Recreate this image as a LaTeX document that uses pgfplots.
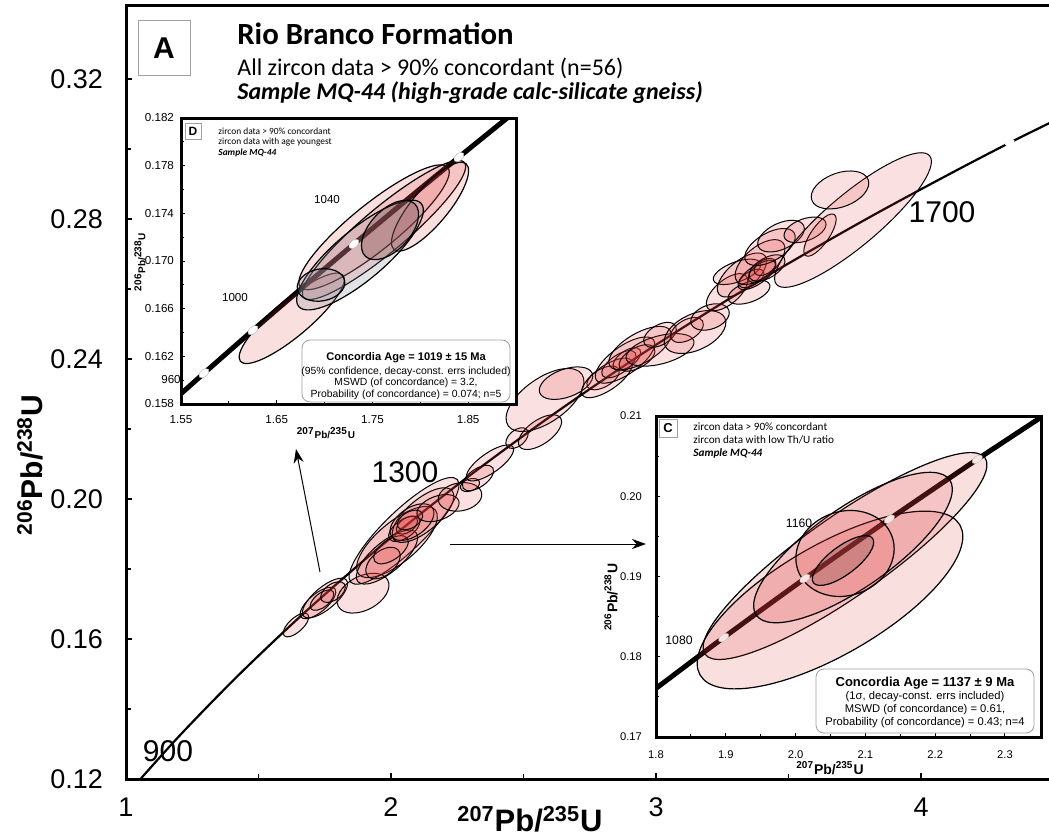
\documentclass[border=0pt]{standalone}
\usepackage{fontspec}
\setmainfont{Liberation Sans}
\newfontfamily\calib{Carlito}
\usepackage{pgfplots}
\pgfplotsset{compat=1.18}
\usetikzlibrary{arrows.meta}

\definecolor{ellred}{RGB}{225,60,60}
\definecolor{ellgray}{RGB}{140,145,160}
\definecolor{elldark}{RGB}{120,60,60}
\definecolor{boxgray}{RGB}{160,160,160}
\definecolor{markpink}{RGB}{250,228,228}

% a plot mark that draws nothing; the ellipse itself is drawn by the scatter code
\pgfdeclareplotmark{nothing}{}

\pgfplotsset{
  /pgf/number format/assume math mode=true,
  % rotated error ellipses: centre from x,y; semi-axes rx, ry (px); tilt ang (deg)
  % arguments: fill colour, fill opacity, outline width, outline colour
  error ellipses/.style n args={4}{
    scatter, only marks, mark=nothing,
    scatter/use mapped color={draw=none, fill=none},
    visualization depends on={value \thisrow{rx}\as\erx},
    visualization depends on={value \thisrow{ry}\as\ery},
    visualization depends on={value \thisrow{ang}\as\eang},
    scatter/@pre marker code/.code={%
      \pgfmathsetmacro\eax{0.5*\erx*cos(\eang)}%
      \pgfmathsetmacro\eay{0.5*\erx*sin(\eang)}%
      \pgfmathsetmacro\ebx{-0.5*\ery*sin(\eang)}%
      \pgfmathsetmacro\eby{0.5*\ery*cos(\eang)}%
      \begin{pgfscope}%
        \pgfsetfillcolor{#1}\pgfsetfillopacity{#2}%
        \pgfsetstrokecolor{#4}\pgfsetstrokeopacity{1}\pgfsetlinewidth{#3}%
        \pgfpathellipse{\pgfpointorigin}{\pgfqpoint{\eax pt}{\eay pt}}{\pgfqpoint{\ebx pt}{\eby pt}}%
        \pgfusepath{fill,stroke}%
      \end{pgfscope}%
    },
    scatter/@post marker code/.code={},
  },
}

\begin{document}
\begin{tikzpicture}
\path[use as bounding box] (0,0) rectangle (524.5pt,-419.5pt);

% ---------------- main concordia diagram ----------------
\begin{axis}[
  at={(63pt,-389.5pt)}, anchor=south west,
  scale only axis, width=463pt, height=386.5pt,
  xmin=1, xmax=4.4943, ymin=0.12, ymax=0.34086,
  axis line style={line width=1.5pt},
  tick pos=left, tick align=inside,
  xtick={1,2,3,4}, minor xtick={1.5,2.5,3.5},
  ytick={0.12,0.16,0.20,0.24,0.28,0.32},
  minor ytick={0.14,0.18,0.22,0.26,0.30},
  major tick length=3pt, minor tick length=2.5pt,
  tick style={black, line width=0.7pt},
  scaled ticks=false,
  tick label style={font=\fontsize{13.5}{16}\selectfont},
  xticklabel style={yshift=-6pt},
  yticklabel style={xshift=-8pt, /pgf/number format/.cd, fixed, fixed zerofill, precision=2},
]
\addplot[black, line width=1.1pt, smooth] coordinates {
  (0.9925,0.1147) (1.1987,0.1321) (1.4263,0.1498) (1.6774,0.1678)
  (1.9545,0.1861) (2.2603,0.2046) (2.5977,0.2234) (2.9701,0.2426)
  (3.3810,0.2620) (3.8344,0.2817) (4.3348,0.3018) (4.8869,0.3221)};
\addplot[error ellipses={ellred}{0.16}{0.5pt}{black}] table {
x y rx ry ang
1.6415 0.1640 16 7 42
1.7245 0.1703 22 9 40
1.7509 0.1717 28 11 40
1.7396 0.1711 14 7 38
1.7811 0.1734 14 8 35
1.8943 0.1731 28 17 28
2.0491 0.1909 74 20 44
2.0226 0.1877 50 20 40
1.9849 0.1834 38 15 40
1.9698 0.1817 20 12 40
2.0000 0.1855 20 10 35
2.0500 0.1915 18 9 35
2.0600 0.1925 12 7 35
2.1208 0.1954 38 16 40
2.0792 0.1934 25 14 35
2.0717 0.1940 14 8 30
2.1774 0.1974 22 12 20
2.2604 0.2006 22 14 10
2.2981 0.2040 10 6 20
2.3283 0.2060 18 9 35
2.3736 0.2103 28 10 35
2.4755 0.2174 13 8 40
2.5623 0.2191 25 12 35
2.5811 0.2283 45 22 35
2.6604 0.2331 28 14 20
2.8000 0.2346 18 9 30
2.8151 0.2346 30 12 35
2.8600 0.2385 20 9 35
2.8900 0.2400 16 8 35
2.8830 0.2397 35 14 35
2.9283 0.2403 20 10 30
2.9396 0.2431 35 15 30
3.0151 0.2426 35 14 15
3.0151 0.2469 18 10 30
3.1170 0.2483 18 10 30
3.1472 0.2477 33 18 25
3.2038 0.2520 20 12 20
3.2679 0.2591 25 12 40
3.3057 0.2649 25 10 20
3.3245 0.2640 30 14 40
3.3509 0.2591 22 10 20
3.3600 0.2630 14 7 30
3.3800 0.2640 22 9 35
3.4000 0.2650 16 8 35
3.3925 0.2677 30 15 40
3.4113 0.2663 12 7 30
3.4189 0.2660 20 10 30
3.4302 0.2720 28 14 30
3.4717 0.2751 25 13 25
3.5623 0.2769 22 11 20
3.6189 0.2754 25 9 55
3.7434 0.2797 100 26 40
3.6943 0.2883 30 17 20
};
% age tick on the concordia (1700 Ma)
\addplot[error ellipses={white}{1}{0.1pt}{white}] table {
x y rx ry ang
4.3348 0.3018 5 2.5 25
};
\end{axis}

% ---------------- inset D ----------------
\begin{axis}[
  at={(90.5pt,-202pt)}, anchor=south west,
  scale only axis, width=167.5pt, height=143pt,
  xmin=1.55, xmax=1.90, ymin=0.158, ymax=0.182,
  axis background/.style={fill=white},
  axis line style={line width=1.5pt},
  tick pos=left, tick align=inside,
  xtick={1.55,1.65,1.75,1.85}, minor xtick={1.60,1.70,1.80},
  ytick={0.158,0.162,0.166,0.170,0.174,0.178,0.182},
  minor ytick={0.160,0.164,0.168,0.172,0.176,0.180},
  major tick length=2pt, minor tick length=1.5pt,
  tick style={black, line width=0.5pt},
  scaled ticks=false,
  tick label style={font=\fontsize{5.8}{7}\selectfont},
  xticklabel style={yshift=-2pt, /pgf/number format/.cd, fixed, fixed zerofill, precision=2},
  yticklabel style={/pgf/number format/.cd, fixed, fixed zerofill, precision=3},
  clip marker paths=true,
]
\addplot[black, line width=2.5pt, smooth] coordinates {
  (1.52378,0.15698) (1.57399,0.16058) (1.62519,0.16419) (1.67741,0.16780)
  (1.73067,0.17143) (1.78499,0.17507) (1.84039,0.17872) (1.89689,0.18239)
  (1.95452,0.18606)};
\addplot[error ellipses={ellred}{0.16}{0.6pt}{black}] table {
x y rx ry ang
1.6657 0.16519 67 18 40
1.7517 0.17283 95 23 39
1.7621 0.17260 105 22 40
1.8102 0.17456 56 18 50
};
\addplot[error ellipses={ellgray}{0.25}{0.6pt}{black}] table {
x y rx ry ang
1.7370 0.17050 80 25 40
1.6963 0.16799 24 16 10
};
\addplot[error ellipses={elldark}{0.3}{0.6pt}{black}] table {
x y rx ry ang
1.7684 0.17260 36 20 47
};
% age ticks on the concordia (960, 980, 1020, 1060 Ma)
\addplot[error ellipses={white}{1}{0.2pt}{gray!60}] table {
x y rx ry ang
1.57399 0.16058 6 3.5 40
1.62519 0.16419 6 3.5 40
1.73067 0.17143 6 3.5 40
1.84039 0.17872 6 3.5 40
};
\end{axis}

% ---------------- inset C ----------------
\begin{axis}[
  at={(328pt,-368.5pt)}, anchor=south west,
  scale only axis, width=192.5pt, height=160.5pt,
  xmin=1.8, xmax=2.3516, ymin=0.17, ymax=0.21,
  axis background/.style={fill=white},
  axis line style={line width=1.5pt},
  tick pos=left, tick align=inside,
  xtick={1.8,1.9,2.0,2.1,2.2,2.3}, minor xtick={1.85,1.95,2.05,2.15,2.25},
  ytick={0.17,0.18,0.19,0.20,0.21}, minor ytick={0.175,0.185,0.195,0.205},
  major tick length=2pt, minor tick length=1.5pt,
  tick style={black, line width=0.5pt},
  scaled ticks=false,
  tick label style={font=\fontsize{5.6}{7}\selectfont},
  xticklabel style={yshift=-3.5pt, /pgf/number format/.cd, fixed, fixed zerofill, precision=1},
  yticklabel style={xshift=-3.5pt, /pgf/number format/.cd, fixed, fixed zerofill, precision=2},
  clip marker paths=true,
]
\addplot[black, line width=2.5pt, smooth] coordinates {
  (1.78499,0.17507) (1.89689,0.18239) (2.01329,0.18975) (2.13436,0.19715)
  (2.26030,0.20460) (2.39130,0.21210)};
\addplot[error ellipses={ellred}{0.16}{0.6pt}{black}] table {
x y rx ry ang
2.0708 0.19255 171 40 35
2.0493 0.18707 150 55 30
2.0822 0.19361 118 40 35
2.0708 0.19287 50 42 20
};
\addplot[error ellipses={elldark}{0.25}{0.6pt}{black}] table {
x y rx ry ang
2.0679 0.19199 37 14 37
};
% age ticks on the concordia (1080, 1120, 1160, 1200 Ma)
\addplot[error ellipses={markpink}{1}{0.2pt}{gray!50}] table {
x y rx ry ang
1.89689 0.18239 6 3.2 35
2.01329 0.18975 6 3.2 35
2.13436 0.19715 6 3.2 35
2.26030 0.20460 6 3.2 35
};
\end{axis}

% ---------------- labels, annotations, arrows ----------------
\begin{scope}[x=0.5pt, y=-0.5pt]
  % panel A heading
  \draw[boxgray, line width=0.4pt] (138,20) rectangle (190,75);
  \node[font=\fontsize{15}{18}\selectfont\bfseries] at (164,48) {A};
  \node[anchor=base west, inner sep=0, font=\calib\fontsize{15.4}{18}\selectfont\bfseries] at (237,45) {Rio Branco Formation};
  \node[anchor=base west, inner sep=0, font=\calib\fontsize{12}{14}\selectfont] at (237,76) {All zircon data > 90\% concordant (n=56)};
  \node[anchor=base west, inner sep=0, font=\calib\fontsize{12}{14}\selectfont\bfseries\itshape] at (237,100) {Sample MQ-44 (high-grade calc-silicate gneiss)};

  % main axis titles
  \node[rotate=90, font=\fontsize{15}{18}\selectfont\bfseries] at (30,465) {\textsuperscript{206}Pb/\textsuperscript{238}U};
  \node[font=\fontsize{15.5}{18}\selectfont\bfseries] at (530,819) {\textsuperscript{207}Pb/\textsuperscript{235}U};

  % ages on the main concordia
  \node[font=\fontsize{15}{18}\selectfont] at (168,751) {900};
  \node[font=\fontsize{15}{18}\selectfont] at (405,472) {1300};
  \node[font=\fontsize{15}{18}\selectfont] at (942,212) {1700};

  % arrows to the insets
  \draw[line width=0.5pt, -{Stealth[length=7pt,width=5pt]}] (320,572) -- (296,449);
  \draw[line width=0.5pt, -{Stealth[length=7pt,width=5pt]}] (450,544) -- (646,544);

  % inset D annotations
  \draw[boxgray, line width=0.3pt, fill=white] (185,123) rectangle (201,139);
  \node[font=\fontsize{6}{7}\selectfont\bfseries] at (193,131) {D};
  \node[anchor=west, inner sep=0, font=\calib\fontsize{4.7}{6}\selectfont] at (218,131) {zircon data > 90\% concordant};
  \node[anchor=west, inner sep=0, font=\calib\fontsize{4.7}{6}\selectfont] at (218,142) {zircon data with age youngest};
  \node[anchor=west, inner sep=0, font=\calib\fontsize{4.7}{6}\selectfont\bfseries\itshape] at (218,153) {Sample MQ-44};
  \node[font=\fontsize{5.8}{7}\selectfont] at (327,200) {1040};
  \node[font=\fontsize{5.8}{7}\selectfont] at (235,298) {1000};
  \node[font=\fontsize{5.8}{7}\selectfont] at (171,380) {960};
  \draw[boxgray, line width=0.4pt, fill=white, rounded corners=4pt] (302,340) rectangle (510,402);
  \node[font=\fontsize{5.55}{7}\selectfont\bfseries] at (406,358) {Concordia Age = 1019 ± 15 Ma};
  \node[font=\fontsize{5.2}{6}\selectfont] at (406,372) {(95\% confidence, decay-const. errs included)};
  \node[font=\fontsize{5.2}{6}\selectfont] at (406,383) {MSWD (of concordance) = 3.2,};
  \node[font=\fontsize{5.2}{6}\selectfont] at (406,395) {Probability (of concordance) = 0.074; n=5};
  \node[font=\fontsize{5}{6}\selectfont\bfseries] at (326,433) {\textsuperscript{207}Pb/\textsuperscript{235}U};
  \node[rotate=90, font=\fontsize{5}{6}\selectfont\bfseries] at (140,262) {\textsuperscript{206}Pb/\textsuperscript{238}U};

  % inset C annotations
  \draw[boxgray, line width=0.3pt, fill=white] (659,419) rectangle (677,437);
  \node[font=\fontsize{6.5}{8}\selectfont\bfseries] at (668,428) {C};
  \node[anchor=west, inner sep=0, font=\calib\fontsize{5.6}{7}\selectfont] at (693,427) {zircon data > 90\% concordant};
  \node[anchor=west, inner sep=0, font=\calib\fontsize{5.6}{7}\selectfont] at (693,440) {zircon data with low Th/U ratio};
  \node[anchor=west, inner sep=0, font=\calib\fontsize{5.6}{7}\selectfont\bfseries\itshape] at (693,453) {Sample MQ-44};
  \node[font=\fontsize{6.1}{7}\selectfont] at (799,523) {1160};
  \node[font=\fontsize{6.1}{7}\selectfont] at (679,640) {1080};
  \draw[boxgray, line width=0.4pt, fill=white, rounded corners=4pt] (816,669) rectangle (1034,733);
  \node[font=\fontsize{6.5}{8}\selectfont\bfseries] at (925,683) {Concordia Age = 1137 ± 9 Ma};
  \node[font=\fontsize{5.6}{7}\selectfont] at (925,697) {(1σ, decay-const. errs included)};
  \node[font=\fontsize{5.6}{7}\selectfont] at (925,710) {MSWD (of concordance) = 0.61,};
  \node[font=\fontsize{5.6}{7}\selectfont] at (925,723) {Probability (of concordance) = 0.43; n=4};
  \node[font=\fontsize{7}{8}\selectfont\bfseries] at (830,768) {\textsuperscript{207}Pb/\textsuperscript{235}U};
  \node[rotate=90, font=\fontsize{7}{8}\selectfont\bfseries] at (611,597) {\textsuperscript{206}Pb/\textsuperscript{238}U};
\end{scope}
\end{tikzpicture}
\end{document}
